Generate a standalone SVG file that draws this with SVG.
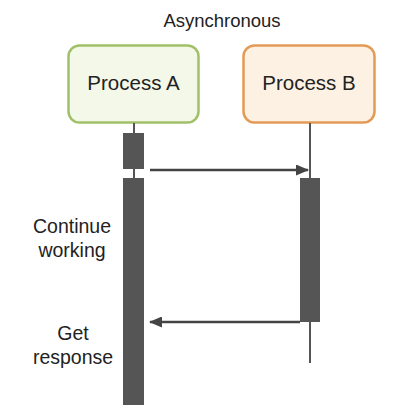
<svg xmlns="http://www.w3.org/2000/svg" width="407" height="418" viewBox="0 0 407 418">
<defs>
<style>
text{font-family:"Liberation Sans",Arial,sans-serif;fill:#222}
.life{stroke:#555;stroke-width:2}
.bar{fill:#555}
.msg{stroke:#444;stroke-width:2.5;fill:none}
</style>
<marker id="ah" markerWidth="13" markerHeight="11" refX="12" refY="5.5" orient="auto" markerUnits="userSpaceOnUse">
<path d="M0,0 L13,5.5 L0,11 Z" fill="#444"/>
</marker>
</defs>
<rect width="407" height="418" fill="#fff"/>
<text x="222" y="27" font-size="18.5" text-anchor="middle">Asynchronous</text>
<g id="processA">
<rect x="68.5" y="45.5" width="130" height="77" rx="11" fill="#f4f8e9" stroke="#a2c06a" stroke-width="2.5"/>
<text x="133.5" y="90" font-size="20.5" text-anchor="middle">Process A</text>
</g>
<g id="processB">
<rect x="243.5" y="45.5" width="131" height="77" rx="11" fill="#fdf1e4" stroke="#e39a55" stroke-width="2.5"/>
<text x="309" y="90" font-size="20.5" text-anchor="middle">Process B</text>
</g>
<g id="lifelineA">
<line class="life" x1="134" y1="123" x2="134" y2="178"/>
<rect class="bar" x="123" y="133" width="21" height="36"/>
<rect class="bar" x="123" y="178" width="21" height="227"/>
</g>
<g id="lifelineB">
<line class="life" x1="310" y1="123" x2="310" y2="363"/>
<rect class="bar" x="300" y="178" width="20" height="144"/>
</g>
<g id="connectors">
<line class="msg" x1="150" y1="170" x2="308" y2="170" marker-end="url(#ah)"/>
<line class="msg" x1="300" y1="322" x2="150" y2="322" marker-end="url(#ah)"/>
</g>
<g id="labels" font-size="19.5" text-anchor="middle">
<text x="72" y="233">Continue</text>
<text x="72" y="257">working</text>
<text x="73" y="340">Get</text>
<text x="73" y="364">response</text>
</g>
</svg>
